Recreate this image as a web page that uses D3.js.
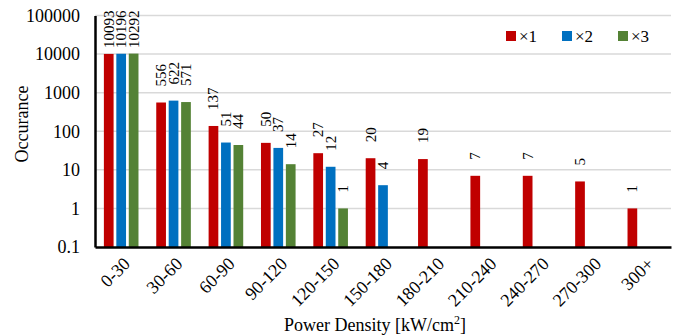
<!DOCTYPE html>
<html lang="en">
  <head>
    <meta charset="utf-8">
    <title>Occurance</title>
    <script src="https://d3js.org/d3.v7.min.js"></script>
    <style>
      body { margin: 0; background: #fff; }
      svg text { font-family: "Liberation Serif", "Times New Roman", serif; fill: #000; }
      .grid line { stroke: #d9d9d9; stroke-width: 1.5px; }
    </style>
  </head>
  <body>
    <svg id="chart" width="678" height="335" font-family="Liberation Serif"></svg>
    <script>
      let categories = ['0-30','30-60','60-90','90-120','120-150','150-180','180-210','210-240','240-270','270-300','300+'];
      let seriesNames = ['×1','×2','×3'];
      let seriesColors = ['#c00000','#0070c0','#548235'];
      let x1Values = [10093, 556, 137, 50, 27, 20, 19, 7, 7, 5, 1];
      let x2Values = [10196, 622, 51, 37, 12, 4, null, null, null, null, null];
      let x3Values = [10292, 571, 44, 14, 1, null, null, null, null, null, null];
      let yTicks = [0.1, 1, 10, 100, 1000, 10000, 100000];

      let svg = d3.select('#chart');
      let plotLeft = 95, plotRight = 671, plotTop = 15.5, plotBottom = 247;

      let x = d3.scaleBand().domain(categories).range([plotLeft, plotRight]).paddingInner(0).paddingOuter(0);
      let inner = d3.scaleBand().domain(seriesNames).range([-17.3, 17.3]).paddingInner(0.22);
      let y = d3.scaleLog().domain([0.1, 100000]).range([plotBottom, plotTop]);

      // gridlines
      svg.append('g').attr('class', 'grid')
        .selectAll('line').data(yTicks.slice(1)).join('line')
        .attr('x1', plotLeft).attr('x2', plotRight)
        .attr('y1', function(d){return y(d)}).attr('y2', function(d){return y(d)});

      let series = [x1Values, x2Values, x3Values].map(function(vals, s) {
        return vals.map(function(v, i) {return {cat: categories[i], s: seriesNames[s], color: seriesColors[s], v: v}})
          .filter(function(d){return d.v != null});
      });
      let flat = series.flat();

      let bars = svg.append('g');
      bars.selectAll('rect').data(flat).join('rect')
        .attr('x', function(d){return x(d.cat) + x.bandwidth()/2 + inner(d.s)})
        .attr('width', inner.bandwidth())
        .attr('y', function(d){return y(d.v)})
        .attr('height', function(d){return y(0.1) - y(d.v)})
        .attr('fill', function(d){return d.color});

      // value labels, rotated
      let labels = svg.append('g');
      labels.selectAll('text').data(flat).join('text')
        .attr('font-size', '15px')
        .attr('dominant-baseline', 'central')
        .text(function(d){return d.v})
        .each(function(d) {
          let len = this.getComputedTextLength();
          let cx = x(d.cat) + x.bandwidth()/2 + inner(d.s) + inner.bandwidth()/2;
          let endY = Math.max(y(d.v) - 16, plotTop - 5 + len);
          d3.select(this).attr('transform', 'translate(' + cx + ',' + endY + ') rotate(-90)');
        });

      // axes
      let yAxis = svg.append('g').attr('transform', 'translate(' + plotLeft + ',0)')
        .call(d3.axisLeft(y).tickValues(yTicks).tickFormat(function(d){return String(d)}).tickSize(0).tickPadding(15));
      yAxis.attr('font-family', null).attr('font-size', null);
      yAxis.select('.domain').attr('stroke', '#000').attr('stroke-width', 2.5);
      yAxis.selectAll('text').attr('font-size', '18px');

      let xAxis = svg.append('g').attr('transform', 'translate(0,' + plotBottom + ')')
        .call(d3.axisBottom(x).tickSize(0).tickPadding(0));
      xAxis.attr('font-family', null).attr('font-size', null);
      xAxis.select('.domain').attr('stroke', '#000').attr('stroke-width', 2.5);
      xAxis.selectAll('text')
        .attr('font-size', '18px')
        .attr('text-anchor', 'end').attr('dy', null).attr('y', 0)
        .attr('transform', 'translate(10,18) rotate(-45)');

      // axis titles
      let xt = svg.append('text').attr('x', 375).attr('y', 331).attr('text-anchor', 'middle').attr('font-size', '18px');
      xt.append('tspan').text('Power Density [kW/cm');
      xt.append('tspan').attr('font-size', '12px').attr('dy', -7).text('2');
      xt.append('tspan').attr('dy', 7).text(']');

      svg.append('text').attr('transform', 'translate(28,124) rotate(-90)')
        .attr('text-anchor', 'middle').attr('font-size', '18px').text('Occurance');

      // legend
      let legend = svg.append('g').selectAll('g').data(seriesNames).join('g')
        .attr('transform', function(d, i){return 'translate(' + (506 + i*56) + ',31)'});
      legend.append('rect').attr('width', 10).attr('height', 10)
        .attr('fill', function(d, i){return seriesColors[i]});
      legend.append('text').attr('x', 13).attr('y', 10.5).attr('font-size', '17px').text(function(d){return d});
    </script>
  </body>
</html>
